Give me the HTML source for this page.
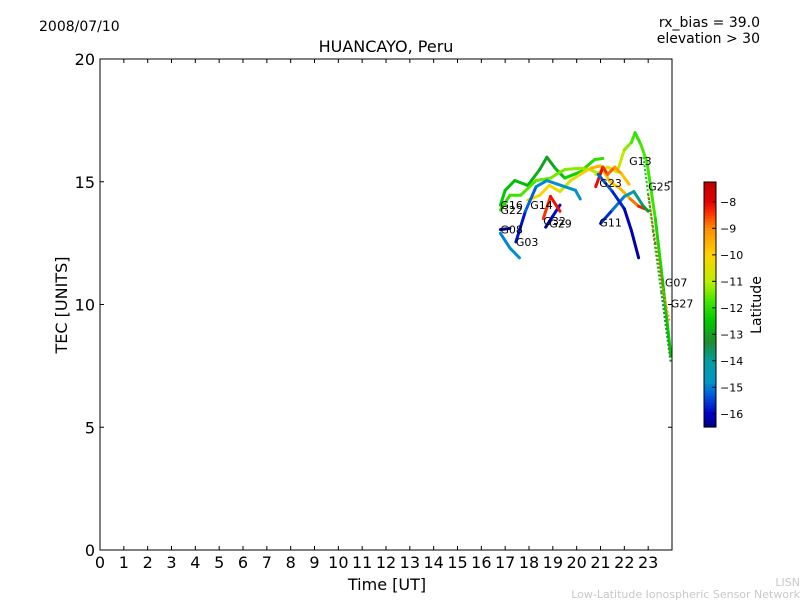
<!DOCTYPE html>
<html><head><meta charset="utf-8"><style>body{margin:0;background:#fff}svg{display:block;font-family:"DejaVu Sans","Liberation Sans",sans-serif}</style></head>
<body>
<svg id="chart" width="800" height="600">
<text x="39" y="31" font-size="14">2008/07/10</text>
<text x="760" y="27" font-size="14" text-anchor="end">rx_bias = 39.0</text>
<text x="760" y="43" font-size="14" text-anchor="end">elevation &gt; 30</text>
<text x="386" y="52" font-size="16" text-anchor="middle">HUANCAYO, Peru</text>
<text x="387" y="590" font-size="16" text-anchor="middle">Time [UT]</text>
<text transform="translate(67,305) rotate(-90)" font-size="16" text-anchor="middle">TEC [UNITS]</text>
<text x="800" y="586" font-size="11" fill="#c8c8c8" text-anchor="end">LISN</text>
<text x="800" y="598" font-size="11" fill="#c8c8c8" text-anchor="end">Low-Latitude Ionospheric Sensor Network</text>
<g id="marks"></g>
<rect x="100" y="59" width="572" height="491" fill="none" stroke="#000" stroke-width="1"/>
<g id="axes"></g>
<g id="cbar"></g>
</svg>
<script>
const xTicks=[0,1,2,3,4,5,6,7,8,9,10,11,12,13,14,15,16,17,18,19,20,21,22,23];
const yTicks=[0,5,10,15,20];
const cbTicks=[-8,-9,-10,-11,-12,-13,-14,-15,-16];
const latMin=-16.5, latMax=-7.25;
const g16H=[16.8,17.0,17.4,17.95,18.45,18.75,19.1,19.5,20.15,20.75,21.1];
const g16T=[14.05,14.65,15.05,14.85,15.5,16.0,15.55,15.15,15.4,15.9,15.95];
const g16L=[-12.5,-12.5,-12.6,-12.7,-12.9,-13.2,-12.8,-12.4,-12.2,-12,-11.9];
const g22H=[16.8,17.2,17.65,18.3,18.9,19.5,20.15,20.55,21.0];
const g22T=[13.85,14.45,14.45,15.05,15.15,15.5,15.55,15.5,15.3];
const g22L=[-12,-11.9,-11.8,-11.6,-11.5,-11.4,-11.3,-11.2,-11];
const g14H=[17.95,18.45,18.85,19.3,19.75,20.15,20.6,21.0,21.4,21.85,22.25,22.6,22.85];
const g14T=[14.25,14.45,14.85,14.6,15.05,15.3,15.55,15.65,15.0,14.7,14.3,14.0,13.9];
const g14L=[-10.5,-10.2,-10,-10.5,-10.8,-10.3,-9.5,-9.5,-10,-9.8,-9.2,-8.5,-8];
const g13H=[20.8,21.3,21.7,22.0,22.3,22.45,22.7,22.95,23.3,23.6,23.95];
const g13T=[15.3,15.6,15.4,16.3,16.6,17.0,16.5,15.8,13.5,11.0,7.9];
const g13L=[-11,-10.8,-10.5,-11.2,-11.5,-12,-11.8,-11.6,-12,-12.3,-12.5];
const g23H=[20.8,21.1,21.3,21.6,21.9,22.2];
const g23T=[14.8,15.6,15.3,15.6,15.3,14.9];
const g23L=[-8,-8.2,-8.5,-9,-9.5,-10];
const g03H=[17.45,17.85,18.3,18.75,19.35,19.95,20.15];
const g03T=[12.55,13.8,14.8,15.05,14.85,14.65,14.3];
const g03L=[-16.2,-15.5,-15,-14.9,-14.8,-14.8,-14.8];
const g06H=[16.8,17.2,17.6];
const g06T=[12.9,12.3,11.9];
const g06L=[-15.0,-14.9,-14.8];
const g08H=[16.8,17.2];
const g08T=[13.05,13.1];
const g08L=[-16.3,-16.3];
const g29H=[18.7,19.0,19.3];
const g29T=[13.15,13.6,14.05];
const g29L=[-16.2,-16,-15.8];
const g11H=[21.0,21.5,22.0,22.4,22.8,23.0];
const g11T=[13.3,13.85,14.4,14.6,14.0,13.8];
const g11L=[-16,-15.3,-14.8,-14.2,-13.5,-13];
const g11bH=[20.9,21.5,22.0,22.3,22.6];
const g11bT=[15.3,14.6,13.9,13.0,11.9];
const g11bL=[-15.0,-15.5,-16,-16.2,-16.3];
const g32H=[18.6,18.9,19.3];
const g32T=[13.5,14.4,13.8];
const g32L=[-8.5,-8.3,-8];
const g25H=[23.0,23.3,23.6,23.9];
const g25T=[14.5,12.5,10.7,9.3];
const g25L=[-8.2,-8.4,-8.8,-9.2];
const g07H=[22.8,23.2,23.55,23.95];
const g07T=[16.0,13.0,10.5,7.6];
const g07L=[-12.2,-12.5,-13,-13.5];
const series=[
 {h:g16H,t:g16T,l:g16L},{h:g22H,t:g22T,l:g22L},{h:g14H,t:g14T,l:g14L},
 {h:g13H,t:g13T,l:g13L},{h:g23H,t:g23T,l:g23L},{h:g03H,t:g03T,l:g03L},
 {h:g06H,t:g06T,l:g06L},{h:g08H,t:g08T,l:g08L},{h:g29H,t:g29T,l:g29L},
 {h:g11H,t:g11T,l:g11L},{h:g11bH,t:g11bT,l:g11bL},{h:g32H,t:g32T,l:g32L},
 {h:g25H,t:g25T,l:g25L,d:1},{h:g07H,t:g07T,l:g07L,d:1}];
const labelNames=["G16","G22","G14","G08","G03","G32","G29","G23","G11","G13","G25","G07","G27"];
const labelH=[16.8,16.8,18.05,16.8,17.45,18.6,18.85,20.95,20.95,22.2,23.0,23.7,23.95];
const labelT=[14.05,13.85,14.05,13.05,12.55,13.4,13.3,14.95,13.35,15.85,14.8,10.9,10.05];
const NS="http://www.w3.org/2000/svg";
const X=h=>100+h*572/24, Y=v=>550-v*491/20;
const stops=[[-16.5,0,0,130],[-16,0,0,200],[-15.3,0,90,220],[-14.8,0,150,200],[-14,0,160,160],[-13.3,30,140,50],[-12.5,0,200,0],[-11.8,60,230,0],[-11,190,240,0],[-10,255,210,0],[-9,255,140,0],[-8.5,255,60,0],[-8,230,0,0],[-7.25,190,0,0]];
function latC(l){l=Math.max(-16.5,Math.min(-7.25,l));for(let i=0;i<stops.length-1;i++){const a=stops[i],b=stops[i+1];if(l<=b[0]){const f=(l-a[0])/(b[0]-a[0]);return `rgb(${a[1]+(b[1]-a[1])*f|0},${a[2]+(b[2]-a[2])*f|0},${a[3]+(b[3]-a[3])*f|0})`;}}return 'rgb(190,0,0)';}
function mk(tag,a,p){const e=document.createElementNS(NS,tag);for(const k in a)e.setAttribute(k,a[k]);p.appendChild(e);return e;}
const marks=document.getElementById('marks');
series.forEach(s=>{for(let i=0;i<s.h.length-1;i++){
 const e=mk('line',{x1:X(s.h[i]),y1:Y(s.t[i]),x2:X(s.h[i+1]),y2:Y(s.t[i+1]),stroke:latC((s.l[i]+s.l[i+1])/2),'stroke-width':s.d?2:3,'stroke-dasharray':s.d?'2,2':'none','stroke-linecap':s.d?'butt':'round'},marks);
 
 }});
labelNames.forEach((n,i)=>{const e=mk('text',{x:X(labelH[i]),y:Y(labelT[i])+4,'font-size':11},marks);e.textContent=n;
 
 });
const ax=document.getElementById('axes');
xTicks.forEach(h=>{mk('line',{x1:X(h),x2:X(h),y1:550,y2:546,stroke:'#000'},ax);mk('line',{x1:X(h),x2:X(h),y1:59,y2:63,stroke:'#000'},ax);
 const e=mk('text',{x:X(h),y:568,'font-size':16,'text-anchor':'middle'},ax);e.textContent=h;
 
 });
yTicks.forEach(v=>{mk('line',{x1:100,x2:104,y1:Y(v),y2:Y(v),stroke:'#000'},ax);mk('line',{x1:672,x2:668,y1:Y(v),y2:Y(v),stroke:'#000'},ax);
 const e=mk('text',{x:95,y:Y(v)+6,'font-size':16,'text-anchor':'end'},ax);e.textContent=v;
 
 });
const cb=document.getElementById('cbar');const cy0=182,cy1=427;
for(let i=0;i<80;i++){const y=cy0+i*(cy1-cy0)/80;const l=latMax-(i+0.5)/80*(latMax-latMin);mk('rect',{x:704,y:y,width:12,height:(cy1-cy0)/80+0.6,fill:latC(l)},cb);}
mk('rect',{x:704,y:cy0,width:12,height:cy1-cy0,fill:'none',stroke:'#000'},cb);
const cY=l=>cy0+(latMax-l)/(latMax-latMin)*(cy1-cy0);
cbTicks.forEach(l=>{mk('line',{x1:712,x2:716,y1:cY(l),y2:cY(l),stroke:'#000'},cb);
 const e=mk('text',{x:720,y:cY(l)+4,'font-size':11},cb);e.textContent='\u2212'+(-l);
 
 });
const t=mk('text',{transform:'translate(761,305) rotate(-90)','font-size':14,'text-anchor':'middle'},cb);t.textContent='Latitude';


</script>
</body></html>
